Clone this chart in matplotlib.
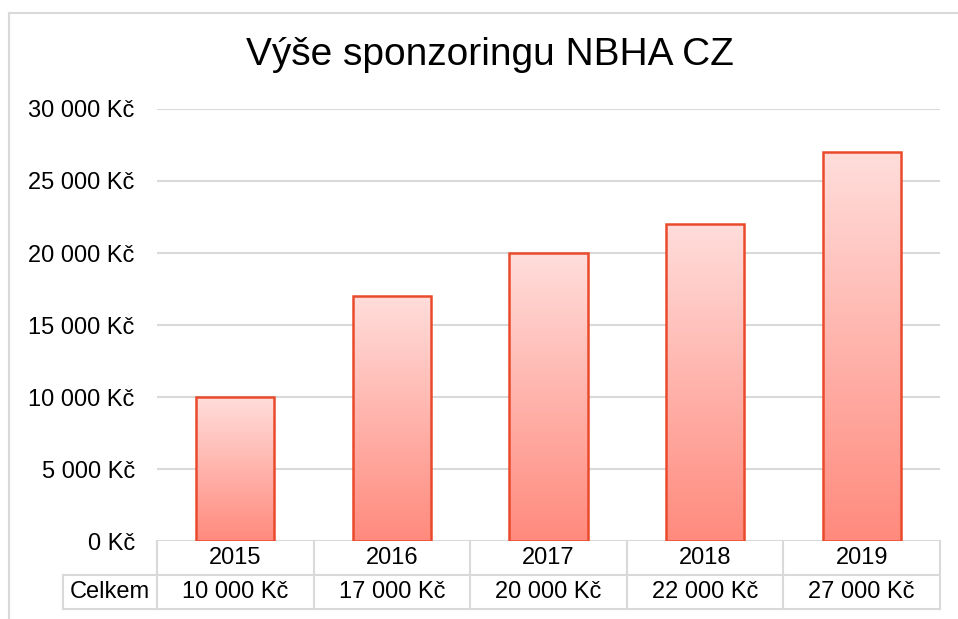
import numpy as np
import matplotlib.pyplot as plt
from matplotlib.colors import LinearSegmentedColormap
from matplotlib.patches import Rectangle

plt.rcParams['font.family'] = ['Liberation Sans', 'DejaVu Sans']

years = ['2015', '2016', '2017', '2018', '2019']
values = [10000, 17000, 20000, 22000, 27000]
row_label = 'Celkem'
title = 'Výše sponzoringu NBHA CZ'
yticks = [0, 5000, 10000, 15000, 20000, 25000, 30000]


def kc(v):
    return f"{v:,}".replace(',', ' ') + ' Kč'


W, H = 958, 619
fs = 17
fig = plt.figure(figsize=(W / 100, H / 100), dpi=100)

# outer chart border (left + top only visible)
fig.add_artist(plt.Line2D([9 / W, 9 / W], [0, 1 - 13 / H], color='#D9D9D9', lw=1.5))
fig.add_artist(plt.Line2D([9 / W, 1], [1 - 13 / H, 1 - 13 / H], color='#D9D9D9', lw=1.5))

ax = fig.add_axes([157 / W, 1 - 541 / H, (940 - 157) / W, (541 - 109) / H])
for s in ax.spines.values():
    s.set_visible(False)

ax.set_yticks(yticks)
ax.set_yticklabels([kc(v) for v in yticks], fontsize=fs)
ax.tick_params(axis='y', length=0, pad=16)
ax.set_xticks([])
ax.yaxis.grid(True, color='#D9D9D9', lw=1.5)
ax.set_axisbelow(True)

cmap = LinearSegmentedColormap.from_list('g', ['#FF8A7D', '#FFDDDB'])
grad = np.linspace(0, 1, 256).reshape(-1, 1)
x = np.arange(len(years))
bars = ax.bar(x, values, width=0.5, facecolor='none', edgecolor='#EA4A2C', lw=1.8, zorder=3)
for b in bars:
    x0, y0, w, h = b.get_x(), b.get_y(), b.get_width(), b.get_height()
    im = ax.imshow(grad, cmap=cmap, aspect='auto', origin='lower',
                   extent=[x0, x0 + w, y0, y0 + h], zorder=2)
    im.set_clip_path(Rectangle((x0, y0), w, h, transform=ax.transData))
ax.set_xlim(-0.5, len(years) - 0.5)
ax.set_ylim(0, 30000)

fig.text(490 / W, 1 - 55 / H, title, fontsize=28, ha='center', va='center')

# data table below the axis
row_h = 34 / (541 - 109)
tc = '#D9D9D9'
tr = ax.get_xaxis_transform()
kw = dict(transform=tr, clip_on=False, color=tc, lw=1.5)
ax.plot([-0.5, len(years) - 0.5], [-row_h, -row_h], **kw)
ax.plot([-0.5, len(years) - 0.5], [-2 * row_h, -2 * row_h], **kw)
for i in range(len(years) + 1):
    ax.plot([i - 0.5, i - 0.5], [0, -2 * row_h], **kw)
lab_w = 94 / ((940 - 157) / len(years))
ax.plot([-0.5 - lab_w, -0.5], [-row_h, -row_h], **kw)
ax.plot([-0.5 - lab_w, -0.5], [-2 * row_h, -2 * row_h], **kw)
ax.plot([-0.5 - lab_w, -0.5 - lab_w], [-row_h, -2 * row_h], **kw)
ax.text(-0.5 - lab_w / 2, -1.5 * row_h, row_label, transform=tr, ha='center', va='center', fontsize=fs)
for i, (yr, v) in enumerate(zip(years, values)):
    ax.text(i, -0.5 * row_h, yr, transform=tr, ha='center', va='center', fontsize=fs)
    ax.text(i, -1.5 * row_h, kc(v), transform=tr, ha='center', va='center', fontsize=fs)

fig.savefig('out.png', dpi=100)
